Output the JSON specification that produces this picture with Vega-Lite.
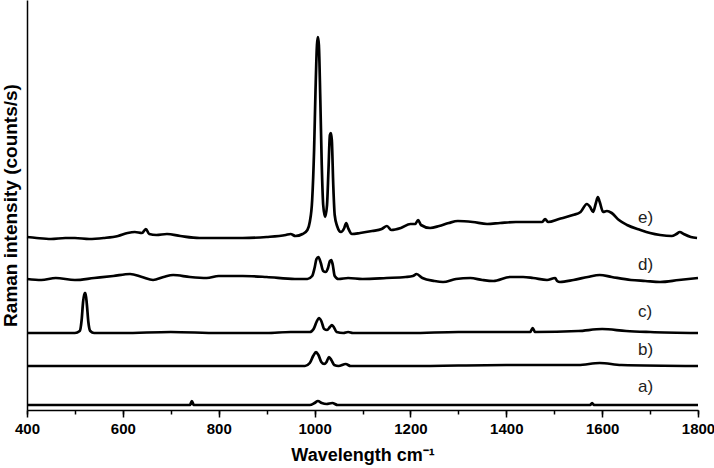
{
  "$schema": "https://vega.github.io/schema/vega-lite/v6.json",
  "width": 671,
  "height": 410,
  "autosize": {"type": "none"},
  "padding": {"left": 27, "top": 0, "right": 16, "bottom": 58},
  "background": "white",
  "config": {"view": {"stroke": null}, "font": "Liberation Sans", "axis": {"labelFontWeight": "bold", "labelFont": "Liberation Sans", "labelFontSize": 15, "labelColor": "black"}},
  "datasets": {
    "spectra": [
      {"s":"e","x":400,"y":173},{"s":"e","x":420,"y":172},{"s":"e","x":450,"y":171},{"s":"e","x":480,"y":172},{"s":"e","x":500,"y":172},{"s":"e","x":530,"y":171},{"s":"e","x":560,"y":172},{"s":"e","x":590,"y":174},{"s":"e","x":610,"y":177},{"s":"e","x":625,"y":178},{"s":"e","x":640,"y":177},{"s":"e","x":648,"y":181},{"s":"e","x":655,"y":176},{"s":"e","x":670,"y":175},{"s":"e","x":692,"y":176},{"s":"e","x":720,"y":174},{"s":"e","x":760,"y":172},{"s":"e","x":800,"y":172},{"s":"e","x":850,"y":172},{"s":"e","x":900,"y":173},{"s":"e","x":940,"y":175},{"s":"e","x":950,"y":176},{"s":"e","x":960,"y":174},{"s":"e","x":975,"y":176},{"s":"e","x":985,"y":180},{"s":"e","x":990,"y":188},{"s":"e","x":995,"y":210},{"s":"e","x":999,"y":260},{"s":"e","x":1002,"y":320},{"s":"e","x":1005,"y":365},{"s":"e","x":1007,"y":373},{"s":"e","x":1009,"y":365},{"s":"e","x":1012,"y":310},{"s":"e","x":1015,"y":245},{"s":"e","x":1018,"y":205},{"s":"e","x":1022,"y":193},{"s":"e","x":1026,"y":205},{"s":"e","x":1029,"y":240},{"s":"e","x":1032,"y":275},{"s":"e","x":1034,"y":277},{"s":"e","x":1036,"y":270},{"s":"e","x":1039,"y":225},{"s":"e","x":1042,"y":195},{"s":"e","x":1047,"y":184},{"s":"e","x":1055,"y":178},{"s":"e","x":1062,"y":182},{"s":"e","x":1066,"y":187},{"s":"e","x":1070,"y":182},{"s":"e","x":1078,"y":176},{"s":"e","x":1095,"y":177},{"s":"e","x":1120,"y":179},{"s":"e","x":1140,"y":181},{"s":"e","x":1151,"y":184},{"s":"e","x":1160,"y":180},{"s":"e","x":1180,"y":182},{"s":"e","x":1200,"y":186},{"s":"e","x":1210,"y":186},{"s":"e","x":1216,"y":190},{"s":"e","x":1222,"y":185},{"s":"e","x":1241,"y":182},{"s":"e","x":1260,"y":184},{"s":"e","x":1280,"y":187},{"s":"e","x":1299,"y":189},{"s":"e","x":1330,"y":188},{"s":"e","x":1360,"y":186},{"s":"e","x":1387,"y":187},{"s":"e","x":1420,"y":188},{"s":"e","x":1460,"y":188},{"s":"e","x":1475,"y":188},{"s":"e","x":1481,"y":191},{"s":"e","x":1487,"y":188},{"s":"e","x":1510,"y":191},{"s":"e","x":1539,"y":195},{"s":"e","x":1555,"y":198},{"s":"e","x":1568,"y":206},{"s":"e","x":1575,"y":203},{"s":"e","x":1581,"y":198},{"s":"e","x":1587,"y":207},{"s":"e","x":1591,"y":213},{"s":"e","x":1595,"y":208},{"s":"e","x":1602,"y":198},{"s":"e","x":1610,"y":199},{"s":"e","x":1620,"y":197},{"s":"e","x":1635,"y":190},{"s":"e","x":1652,"y":185},{"s":"e","x":1680,"y":180},{"s":"e","x":1700,"y":177},{"s":"e","x":1721,"y":175},{"s":"e","x":1745,"y":174},{"s":"e","x":1755,"y":176},{"s":"e","x":1762,"y":178},{"s":"e","x":1770,"y":176},{"s":"e","x":1785,"y":173},{"s":"e","x":1798,"y":172},
      {"s":"d","x":400,"y":131},{"s":"d","x":430,"y":130},{"s":"d","x":460,"y":132},{"s":"d","x":500,"y":130},{"s":"d","x":540,"y":132},{"s":"d","x":580,"y":134},{"s":"d","x":615,"y":136},{"s":"d","x":640,"y":133},{"s":"d","x":663,"y":130},{"s":"d","x":685,"y":133},{"s":"d","x":705,"y":135},{"s":"d","x":740,"y":133},{"s":"d","x":775,"y":132},{"s":"d","x":800,"y":134},{"s":"d","x":850,"y":134},{"s":"d","x":900,"y":133},{"s":"d","x":959,"y":131},{"s":"d","x":985,"y":131},{"s":"d","x":995,"y":134},{"s":"d","x":1000,"y":142},{"s":"d","x":1004,"y":151},{"s":"d","x":1008,"y":153},{"s":"d","x":1013,"y":147},{"s":"d","x":1018,"y":139},{"s":"d","x":1023,"y":138},{"s":"d","x":1028,"y":142},{"s":"d","x":1032,"y":149},{"s":"d","x":1035,"y":150},{"s":"d","x":1038,"y":145},{"s":"d","x":1042,"y":134},{"s":"d","x":1050,"y":131},{"s":"d","x":1070,"y":132},{"s":"d","x":1100,"y":131},{"s":"d","x":1150,"y":132},{"s":"d","x":1190,"y":133},{"s":"d","x":1205,"y":134},{"s":"d","x":1213,"y":136},{"s":"d","x":1225,"y":132},{"s":"d","x":1250,"y":129},{"s":"d","x":1268,"y":128},{"s":"d","x":1295,"y":131},{"s":"d","x":1325,"y":132},{"s":"d","x":1350,"y":130},{"s":"d","x":1373,"y":129},{"s":"d","x":1408,"y":133},{"s":"d","x":1435,"y":133},{"s":"d","x":1456,"y":132},{"s":"d","x":1485,"y":130},{"s":"d","x":1502,"y":132},{"s":"d","x":1506,"y":129},{"s":"d","x":1512,"y":128},{"s":"d","x":1540,"y":130},{"s":"d","x":1570,"y":133},{"s":"d","x":1595,"y":135},{"s":"d","x":1620,"y":133},{"s":"d","x":1660,"y":130},{"s":"d","x":1690,"y":129},{"s":"d","x":1721,"y":128},{"s":"d","x":1760,"y":130},{"s":"d","x":1800,"y":132},
      {"s":"c","x":400,"y":77},{"s":"c","x":450,"y":77},{"s":"c","x":500,"y":77},{"s":"c","x":510,"y":79},{"s":"c","x":514,"y":90},{"s":"c","x":517,"y":108},{"s":"c","x":520,"y":117},{"s":"c","x":522,"y":117},{"s":"c","x":525,"y":105},{"s":"c","x":528,"y":88},{"s":"c","x":532,"y":79},{"s":"c","x":540,"y":77},{"s":"c","x":600,"y":77},{"s":"c","x":700,"y":78},{"s":"c","x":800,"y":77},{"s":"c","x":900,"y":77},{"s":"c","x":950,"y":78},{"s":"c","x":990,"y":78},{"s":"c","x":998,"y":81},{"s":"c","x":1004,"y":88},{"s":"c","x":1009,"y":92},{"s":"c","x":1014,"y":89},{"s":"c","x":1020,"y":81},{"s":"c","x":1026,"y":80},{"s":"c","x":1032,"y":83},{"s":"c","x":1036,"y":85},{"s":"c","x":1040,"y":83},{"s":"c","x":1046,"y":78},{"s":"c","x":1060,"y":77},{"s":"c","x":1070,"y":78},{"s":"c","x":1080,"y":77},{"s":"c","x":1200,"y":77},{"s":"c","x":1300,"y":78},{"s":"c","x":1400,"y":78},{"s":"c","x":1450,"y":78},{"s":"c","x":1455,"y":82},{"s":"c","x":1460,"y":78},{"s":"c","x":1550,"y":79},{"s":"c","x":1600,"y":81},{"s":"c","x":1650,"y":79},{"s":"c","x":1700,"y":78},{"s":"c","x":1800,"y":77},
      {"s":"b","x":400,"y":44},{"s":"b","x":500,"y":44},{"s":"b","x":600,"y":44},{"s":"b","x":700,"y":44},{"s":"b","x":800,"y":44},{"s":"b","x":900,"y":44},{"s":"b","x":980,"y":44},{"s":"b","x":990,"y":47},{"s":"b","x":997,"y":54},{"s":"b","x":1003,"y":58},{"s":"b","x":1008,"y":55},{"s":"b","x":1014,"y":48},{"s":"b","x":1020,"y":46},{"s":"b","x":1025,"y":48},{"s":"b","x":1030,"y":53},{"s":"b","x":1035,"y":50},{"s":"b","x":1041,"y":45},{"s":"b","x":1050,"y":44},{"s":"b","x":1065,"y":46},{"s":"b","x":1075,"y":44},{"s":"b","x":1200,"y":44},{"s":"b","x":1400,"y":45},{"s":"b","x":1550,"y":45},{"s":"b","x":1595,"y":47},{"s":"b","x":1640,"y":45},{"s":"b","x":1800,"y":44},
      {"s":"a","x":400,"y":5},{"s":"a","x":600,"y":5},{"s":"a","x":700,"y":5},{"s":"a","x":740,"y":5},{"s":"a","x":744,"y":9},{"s":"a","x":748,"y":5},{"s":"a","x":800,"y":5},{"s":"a","x":990,"y":5},{"s":"a","x":1000,"y":7},{"s":"a","x":1007,"y":9},{"s":"a","x":1015,"y":7},{"s":"a","x":1025,"y":6},{"s":"a","x":1037,"y":7},{"s":"a","x":1048,"y":5},{"s":"a","x":1200,"y":5},{"s":"a","x":1400,"y":5},{"s":"a","x":1575,"y":5},{"s":"a","x":1579,"y":7},{"s":"a","x":1583,"y":5},{"s":"a","x":1800,"y":5}
    ],
    "labels": [
      {"label":"e)","x":1675,"y":192},
      {"label":"d)","x":1675,"y":145},
      {"label":"c)","x":1675,"y":98},
      {"label":"b)","x":1675,"y":60},
      {"label":"a)","x":1675,"y":23}
    ]
  },
  "layer": [
    {
      "data": {"name": "labels"},
      "mark": {"type": "text", "align": "left", "baseline": "middle", "font": "Liberation Sans", "fontSize": 17, "color": "#222"},
      "encoding": {
        "x": {
          "field": "x", "type": "quantitative",
          "scale": {"domain": [400, 1800], "nice": false, "zero": false},
          "axis": {
            "orient": "bottom",
            "values": [400, 500, 600, 700, 800, 900, 1000, 1100, 1200, 1300, 1400, 1500, 1600, 1700, 1800],
            "grid": false, "labels": false, "domain": false, "title": null,
            "tickColor": "black", "tickWidth": 1.5, "tickSize": 4
          }
        },
        "y": {"field": "y", "type": "quantitative", "scale": {"domain": [0, 410], "nice": false, "zero": false}, "axis": null},
        "text": {"field": "label"}
      }
    },
    {
      "data": {"name": "spectra"},
      "mark": {"type": "line", "color": "black", "strokeWidth": 2.7, "interpolate": "monotone", "strokeJoin": "round"},
      "encoding": {
        "x": {
          "field": "x", "type": "quantitative",
          "axis": {
            "orient": "bottom",
            "values": [400, 600, 800, 1000, 1200, 1400, 1600, 1800],
            "format": "d",
            "labelFlush": false,
            "grid": false,
            "domainColor": "black", "domainWidth": 1.5,
            "tickColor": "black", "tickWidth": 1.5, "tickSize": 7,
            "labelFont": "Liberation Sans", "labelFontWeight": "bold", "labelFontSize": 15, "labelColor": "black", "labelPadding": 4,
            "title": "Wavelength cm⁻¹",
            "titleFont": "Liberation Sans", "titleFontWeight": "bold", "titleFontSize": 18, "titleColor": "black", "titlePadding": 10
          }
        },
        "y": {
          "field": "y", "type": "quantitative",
          "axis": {
            "grid": false, "ticks": false, "labels": false,
            "domainColor": "black", "domainWidth": 1.5,
            "title": "Raman intensity (counts/s)",
            "titleFont": "Liberation Sans", "titleFontWeight": "bold", "titleFontSize": 19, "titleColor": "black", "titlePadding": 7
          }
        },
        "detail": {"field": "s", "type": "nominal"}
      }
    }
  ],
  "resolve": {"axis": {"x": "independent", "y": "independent"}}
}
